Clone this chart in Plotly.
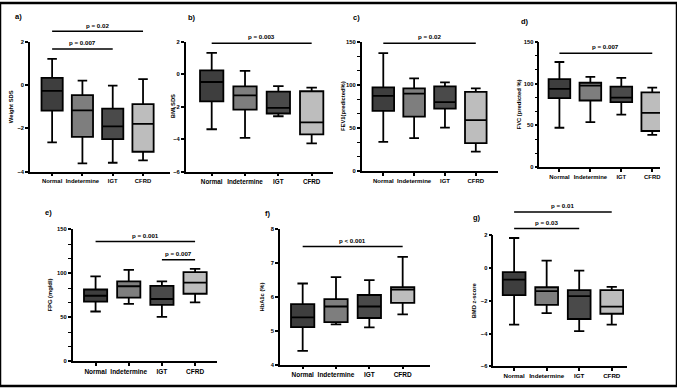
import plotly.graph_objects as go

W, H = 677, 389

CATEGORIES = ["Normal", "Indetermine", "IGT", "CFRD"]
BOX_COLORS = ["#3e3e3e", "#7e7e7e", "#4a4a4a", "#bdbdbd"]

# a) Weight SDS
WEIGHT_LOW = [-2.65, -3.62, -3.59, -3.48]
WEIGHT_Q1 = [-1.18, -2.39, -2.50, -3.08]
WEIGHT_MED = [-0.27, -1.17, -1.91, -1.79]
WEIGHT_Q3 = [0.33, -0.47, -1.09, -0.88]
WEIGHT_HIGH = [1.21, 0.20, -0.03, 0.27]

# b) BMI SDS
BMI_LOW = [-3.39, -3.92, -2.59, -4.26]
BMI_Q1 = [-1.68, -2.18, -2.42, -3.70]
BMI_MED = [-0.48, -1.31, -2.08, -2.97]
BMI_Q3 = [0.24, -0.75, -1.07, -1.05]
BMI_HIGH = [1.31, 0.20, -0.73, -0.83]

# c) FEV1 (predicted %)
FEV1_LOW = [34.2, 38.4, 50.5, 22.8]
FEV1_Q1 = [69.9, 63.4, 72.5, 32.7]
FEV1_MED = [87.3, 90.0, 80.1, 59.2]
FEV1_Q3 = [97.2, 96.1, 98.4, 92.0]
FEV1_HIGH = [136.7, 107.5, 102.9, 96.0]

# d) FVC (predicted %)
FVC_LOW = [47.1, 53.8, 62.8, 38.5]
FVC_Q1 = [82.5, 79.7, 77.7, 43.2]
FVC_MED = [93.5, 97.4, 83.2, 64.8]
FVC_Q3 = [105.2, 100.9, 96.2, 89.5]
FVC_HIGH = [125.7, 108.0, 106.8, 95.0]

# e) FPG (mg/dl)
FPG_LOW = [56.7, 65.3, 50.7, 67.2]
FPG_Q1 = [67.9, 72.4, 64.2, 76.9]
FPG_MED = [74.6, 85.4, 70.9, 89.6]
FPG_Q3 = [81.7, 91.0, 85.8, 101.5]
FPG_HIGH = [96.6, 104.1, 91.0, 105.2]

# f) HbA1c (%)
HBA1C_LOW = [4.41, 5.19, 5.10, 5.49]
HBA1C_Q1 = [5.11, 5.26, 5.38, 5.83]
HBA1C_MED = [5.40, 5.72, 5.72, 6.22]
HBA1C_Q3 = [5.79, 5.94, 6.06, 6.29]
HBA1C_HIGH = [6.40, 6.59, 6.50, 7.19]

# g) BMD z-score
BMD_LOW = [-3.45, -2.75, -3.85, -3.45]
BMD_Q1 = [-1.65, -2.25, -3.11, -2.79]
BMD_MED = [-0.71, -1.41, -1.71, -2.35]
BMD_Q3 = [-0.25, -1.17, -1.35, -1.35]
BMD_HIGH = [1.84, 0.46, -0.15, -1.15]

# significance brackets: (from group, to group, label)
WEIGHT_SIG = [(0, 3, "p = 0.02"), (0, 2, "p = 0.007")]
BMI_SIG = [(0, 3, "p = 0.003")]
FEV1_SIG = [(0, 3, "p = 0.02")]
FVC_SIG = [(0, 3, "p = 0.007")]
FPG_SIG = [(0, 3, "p = 0.001"), (2, 3, "p = 0.007")]
HBA1C_SIG = [(0, 3, "p < 0.001")]
BMD_SIG = [(0, 3, "p = 0.01"), (0, 2, "p = 0.03")]

Y_TITLES = ["Weight SDS", "BMI SDS", "FEV1(predicted%)", "FVC (predicted %)",
            "FPG (mg/dl)", "HbA1c (%)", "BMD z-score"]
PANEL_LABELS = ["a)", "b)", "c)", "d)", "e)", "f)", "g)"]
Y_RANGES = [[-4, 2], [-6, 2], [0, 150], [0, 150], [0, 150], [4, 8], [-6, 2]]
Y_DTICKS = [2, 2, 50, 50, 50, 1, 2]

DATA = [
    (WEIGHT_LOW, WEIGHT_Q1, WEIGHT_MED, WEIGHT_Q3, WEIGHT_HIGH, WEIGHT_SIG),
    (BMI_LOW, BMI_Q1, BMI_MED, BMI_Q3, BMI_HIGH, BMI_SIG),
    (FEV1_LOW, FEV1_Q1, FEV1_MED, FEV1_Q3, FEV1_HIGH, FEV1_SIG),
    (FVC_LOW, FVC_Q1, FVC_MED, FVC_Q3, FVC_HIGH, FVC_SIG),
    (FPG_LOW, FPG_Q1, FPG_MED, FPG_Q3, FPG_HIGH, FPG_SIG),
    (HBA1C_LOW, HBA1C_Q1, HBA1C_MED, HBA1C_Q3, HBA1C_HIGH, HBA1C_SIG),
    (BMD_LOW, BMD_Q1, BMD_MED, BMD_Q3, BMD_HIGH, BMD_SIG),
]

# layout (pixels): x-axis start/end, y top/bottom, x range, tick font size,
# y-title x pos, panel label pos, significance line y / text y (pixels)
PANELS = [
    dict(x0=30, x1=170, yt=39.3, yb=171.3, xr=[-0.73, 3.89], fs=5.9, tx=10.5,
         lab=(18, 14), sig=[(28.7, 22.5), (46.7, 40.5)], minor=False),
    dict(x0=185.7, x1=333, yt=39.3, yb=171.3, xr=[-0.78, 3.64], fs=6.3, tx=172.5,
         lab=(191.7, 14.7), sig=[(41, 34.3)], minor=False),
    dict(x0=361.7, x1=498, yt=39.3, yb=171, xr=[-0.70, 3.72], fs=6.0, tx=342.5,
         lab=(356.7, 14.7), sig=[(41, 34.3)], minor=True),
    dict(x0=539.3, x1=660, yt=39.3, yb=166.7, xr=[-0.65, 3.25], fs=5.9, tx=519,
         lab=(525, 18.3), sig=[(51, 44.3)], minor=True),
    dict(x0=72.7, x1=217.3, yt=230, yb=364, xr=[-0.69, 3.67], fs=6.5, tx=50,
         lab=(48.3, 212.7), sig=[(242.3, 235.8), (260.7, 254.2)], minor=True),
    dict(x0=280, x1=430, yt=230, yb=367.3, xr=[-0.68, 3.82], fs=6.5, tx=262.5,
         lab=(267.3, 214), sig=[(247.3, 240.8)], minor=False),
    dict(x0=493.3, x1=626.7, yt=236, yb=369, xr=[-0.64, 3.46], fs=6.2, tx=473.5,
         lab=(476.7, 218.3), sig=[(212.3, 205.8), (229, 222.8)], minor=False),
]

FONT = "Liberation Sans, Arial, sans-serif"


def fx(px):
    return px / W


def fy(py):
    return 1 - py / H


fig = go.Figure()
shapes = []
annotations = []
layout = {}

for k, (cfg, dat) in enumerate(zip(PANELS, DATA)):
    n = k + 1
    xa = "x" if n == 1 else f"x{n}"
    ya = "y" if n == 1 else f"y{n}"
    low, q1, med, q3, high, sig = dat
    for i, cat in enumerate(CATEGORIES):
        fig.add_trace(go.Box(
            x=[i], lowerfence=[low[i]], q1=[q1[i]], median=[med[i]],
            q3=[q3[i]], upperfence=[high[i]], name=cat,
            fillcolor=BOX_COLORS[i], line=dict(color="black", width=1.8),
            width=0.7, whiskerwidth=0.45, boxpoints=False,
            xaxis=xa, yaxis=ya, showlegend=False, hoverinfo="skip",
        ))
    xkey = "xaxis" if n == 1 else f"xaxis{n}"
    ykey = "yaxis" if n == 1 else f"yaxis{n}"
    layout[xkey] = dict(
        domain=[fx(cfg["x0"]), fx(cfg["x1"])], range=cfg["xr"], anchor=ya,
        tickvals=list(range(len(CATEGORIES))), ticktext=CATEGORIES,
        showline=True, linecolor="black", linewidth=1.5, ticks="outside",
        ticklen=3, tickwidth=1.5, tickcolor="black", showgrid=False,
        zeroline=False, tickfont=dict(family=FONT, size=cfg["fs"],
                                      color="black", weight="bold"),
    )
    ydict = dict(
        domain=[fy(cfg["yb"]), fy(cfg["yt"])], range=Y_RANGES[k], anchor=xa,
        dtick=Y_DTICKS[k], tick0=0, showline=True, linecolor="black",
        linewidth=1.5, ticks="outside", ticklen=3, tickwidth=1.5,
        tickcolor="black", showgrid=False, zeroline=False,
        tickfont=dict(family=FONT, size=5.8, color="black", weight="bold"),
    )
    if cfg["minor"]:
        ydict["minor"] = dict(dtick=Y_DTICKS[k] / 3, ticks="outside",
                              ticklen=2.5, tickwidth=1.2, tickcolor="black",
                              showgrid=False)
    layout[ykey] = ydict

    # y title
    annotations.append(dict(
        text=Y_TITLES[k], x=fx(cfg["tx"]), y=fy((cfg["yt"] + cfg["yb"]) / 2),
        xref="paper", yref="paper", textangle=-90, showarrow=False,
        xanchor="center", yanchor="middle",
        font=dict(family=FONT, size=5.8, color="black", weight="bold"),
    ))
    # panel label
    annotations.append(dict(
        text=PANEL_LABELS[k], x=fx(cfg["lab"][0]), y=fy(cfg["lab"][1]),
        xref="paper", yref="paper", showarrow=False,
        xanchor="center", yanchor="middle",
        font=dict(family=FONT, size=7.5, color="black", weight="bold"),
    ))
    # significance brackets
    for (g0, g1, txt), (ly, ty) in zip(sig, cfg["sig"]):
        shapes.append(dict(
            type="line", xref=xa, yref="paper", x0=g0, x1=g1,
            y0=fy(ly), y1=fy(ly), line=dict(color="black", width=1.5),
        ))
        annotations.append(dict(
            text=txt, x=(g0 + g1) / 2, y=fy(ty), xref=xa, yref="paper",
            showarrow=False, xanchor="center", yanchor="middle",
            font=dict(family=FONT, size=6.2, color="black", weight="bold"),
        ))

# outer frame
shapes.append(dict(type="rect", xref="paper", yref="paper", x0=0, x1=1,
                   y0=0, y1=1, line=dict(color="black", width=2.5)))

fig.update_layout(
    width=W, height=H, margin=dict(l=0, r=0, t=0, b=0),
    paper_bgcolor="white", plot_bgcolor="white", showlegend=False,
    shapes=shapes, annotations=annotations, **layout,
)

fig.write_html("out.html")
